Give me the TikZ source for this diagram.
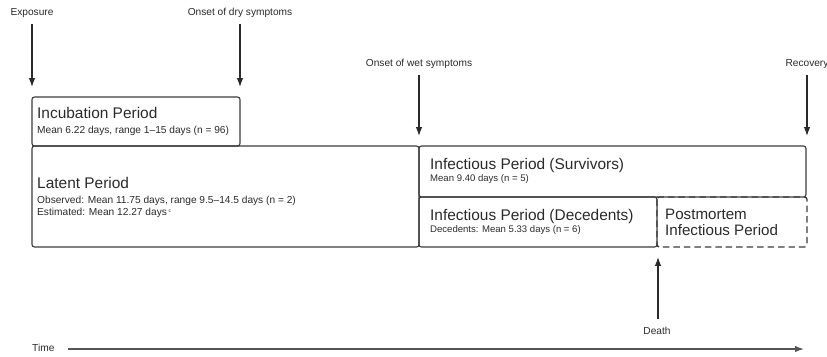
\documentclass[tikz,border=0pt]{standalone}
\usepackage{fontspec}
\setmainfont{Liberation Sans}
\usetikzlibrary{arrows.meta}
\definecolor{ink}{HTML}{2A2A2A}
\definecolor{edge}{HTML}{3C3C3C}
\tikzset{
  period/.style={draw=edge, line width=1.1pt, rounded corners=2.5pt},
  pmbox/.style={draw=edge, line width=1.3pt, rounded corners=2.5pt, dash pattern=on 6.5pt off 4pt},
  title/.style={anchor=base west, inner sep=0pt, text=ink, font=\fontsize{15.5}{18}\selectfont},
  sub/.style={anchor=base west, inner sep=0pt, text=ink, font=\fontsize{10.2}{12}\selectfont},
  evlabel/.style={anchor=base, inner sep=0pt, text=ink, font=\fontsize{10.2}{12}\selectfont},
  evarrow/.style={draw=ink, line width=1.1pt, -{Latex[length=9pt,width=6.5pt]}},
  timearrow/.style={draw=ink!80, line width=1.4pt, -{Latex[length=9pt,width=6.5pt]}}
}
\begin{document}
\begin{tikzpicture}[x=1bp,y=-1bp]
\useasboundingbox (0,0) rectangle (827,356);
% boxes
\draw[pmbox] (657,197) rectangle (807,247);
\draw[period] (32,97) rectangle (240,146);
\draw[period] (32,146) rectangle (419,247);
\draw[period] (419,146) rectangle (806,197);
\draw[period] (419,197) rectangle (657,247);
% box texts
\node[title] (inct) at (37,118.5) {Incubation Period};
\node[sub] (incs) at (37,133) {Mean 6.22 days, range 1–15 days (n = 96)};
\node[title] (latt) at (37,188.5) {Latent Period};
\node[sub] (lats1) at (37,203) {Observed: Mean 11.75 days, range 9.5–14.5 days (n = 2)};
\node[sub] (lats2) at (37,215) {Estimated: Mean 12.27 days\,\raisebox{0.5ex}{\fontsize{5}{6}\selectfont c}};
\node[title] (survt) at (430,169) {Infectious Period (Survivors)};
\node[sub, font=\fontsize{9.6}{11}\selectfont] (survs) at (430,181.5) {Mean 9.40 days (n = 5)};
\node[title] (dect) at (430,220.5) {Infectious Period (Decedents)};
\node[sub, font=\fontsize{9.6}{11}\selectfont] (decs) at (430,232.5) {Decedents: Mean 5.33 days (n = 6)};
\node[title, font=\fontsize{15.2}{18}\selectfont] (pm1) at (665,219) {Postmortem};
\node[title, font=\fontsize{15.2}{18}\selectfont] (pm2) at (665,235) {Infectious Period};
% event labels
\node[evlabel] (expo) at (32,15.5) {Exposure};
\node[evlabel] (dry) at (240,15.5) {Onset of dry symptoms};
\node[evlabel] (wet) at (419,66.5) {Onset of wet symptoms};
\node[evlabel] (reco) at (807,66.5) {Recovery};
\node[evlabel] (death) at (657,334) {Death};
\node[anchor=base west, inner sep=0pt, text=ink, font=\fontsize{10.2}{12}\selectfont] (time) at (32,351.5) {Time};
% arrow end coordinates
\coordinate (expoA) at (32,24);  \coordinate (expoB) at (32,87);
\coordinate (dryA) at (240,24);  \coordinate (dryB) at (240,87);
\coordinate (wetA) at (419,75);  \coordinate (wetB) at (419,136);
\coordinate (recoA) at (807,75); \coordinate (recoB) at (807,136);
\coordinate (deathA) at (658,319); \coordinate (deathB) at (658,257);
\coordinate (timeA) at (68,349); \coordinate (timeB) at (804,349);
\draw[evarrow] (expoA) -- (expoB);
\draw[evarrow] (dryA) -- (dryB);
\draw[evarrow] (wetA) -- (wetB);
\draw[evarrow] (recoA) -- (recoB);
\draw[evarrow] (deathA) -- (deathB);
\draw[timearrow] (timeA) -- (timeB);
\end{tikzpicture}
\end{document}
